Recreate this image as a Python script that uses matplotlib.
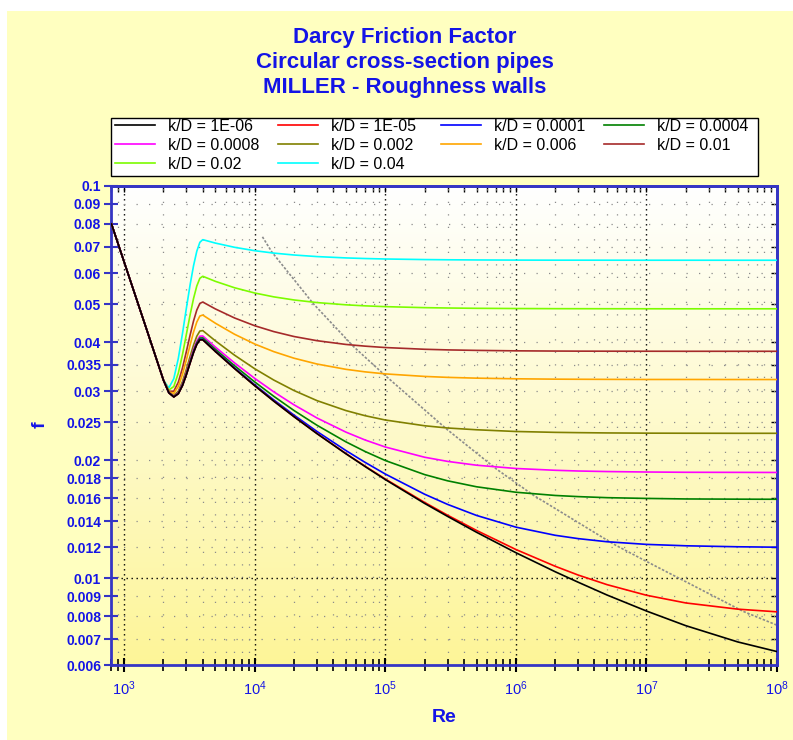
import matplotlib
matplotlib.use("Agg")
import matplotlib.pyplot as plt
from matplotlib.ticker import NullFormatter
from matplotlib.colors import LinearSegmentedColormap
from matplotlib.patches import Rectangle
import numpy as np

plt.rcParams['font.family'] = ['Liberation Sans', 'DejaVu Sans']
plt.rcParams['mathtext.default'] = 'regular'

# laminar part, shared by every curve
re_lam = [800, 1000, 1500, 2000]
f_lam = [0.08, 0.064, 0.0427, 0.032]

# Reynolds numbers of the points (transition + turbulent)
re = [2200, 2400, 2600, 2800, 3000, 3200, 3400, 3600, 3800, 4000,
      5000, 7000, 1e4, 1.4e4, 2e4, 3e4, 5e4, 7e4, 1e5, 2e5, 3e5, 5e5,
      1e6, 2e6, 3e6, 5e6, 1e7, 2e7, 5e7, 1e8]

f_1e_06 = [0.02971, 0.02900, 0.02955, 0.03101, 0.03307, 0.03539, 0.03763, 0.03945, 0.04054, 0.04055,
           0.03785, 0.03426, 0.03097, 0.02829, 0.02582, 0.02338, 0.02077, 0.01928, 0.01786, 0.01553,
           0.01439, 0.01311, 0.01163, 0.01040, 0.00978, 0.00907, 0.00826, 0.00758, 0.00689, 0.00651]
f_1e_05 = [0.02971, 0.02900, 0.02955, 0.03101, 0.03308, 0.03539, 0.03763, 0.03946, 0.04055, 0.04056,
           0.03786, 0.03427, 0.03099, 0.02831, 0.02584, 0.02340, 0.02080, 0.01932, 0.01792, 0.01562,
           0.01449, 0.01325, 0.01185, 0.01074, 0.01020, 0.00964, 0.00906, 0.00866, 0.00835, 0.00822]
f_0_0001 = [0.02971, 0.02901, 0.02957, 0.03105, 0.03313, 0.03546, 0.03771, 0.03955, 0.04065, 0.04066,
            0.03797, 0.03440, 0.03115, 0.02850, 0.02606, 0.02368, 0.02117, 0.01976, 0.01845, 0.01639,
            0.01544, 0.01447, 0.01351, 0.01288, 0.01263, 0.01240, 0.01221, 0.01211, 0.01204, 0.01201]
f_0_0004 = [0.02972, 0.02904, 0.02964, 0.03117, 0.03329, 0.03567, 0.03797, 0.03985, 0.04098, 0.04101,
            0.03835, 0.03484, 0.03167, 0.02911, 0.02678, 0.02456, 0.02228, 0.02106, 0.01997, 0.01839,
            0.01773, 0.01712, 0.01658, 0.01627, 0.01616, 0.01606, 0.01599, 0.01594, 0.01592, 0.01591]
f_0_0008 = [0.02973, 0.02909, 0.02973, 0.03132, 0.03351, 0.03595, 0.03832, 0.04025, 0.04142, 0.04147,
            0.03885, 0.03542, 0.03234, 0.02988, 0.02769, 0.02563, 0.02359, 0.02253, 0.02162, 0.02036,
            0.01987, 0.01943, 0.01906, 0.01886, 0.01878, 0.01872, 0.01867, 0.01864, 0.01863, 0.01862]
f_0_002 = [0.02976, 0.02922, 0.03000, 0.03176, 0.03414, 0.03678, 0.03932, 0.04141, 0.04269, 0.04280,
           0.04030, 0.03706, 0.03422, 0.03202, 0.03011, 0.02838, 0.02677, 0.02598, 0.02533, 0.02449,
           0.02417, 0.02392, 0.02368, 0.02356, 0.02352, 0.02348, 0.02345, 0.02344, 0.02343, 0.02343]
f_0_006 = [0.02987, 0.02962, 0.03085, 0.03315, 0.03611, 0.03934, 0.04244, 0.04500, 0.04662, 0.04689,
           0.04469, 0.04190, 0.03956, 0.03783, 0.03640, 0.03518, 0.03410, 0.03360, 0.03320, 0.03271,
           0.03253, 0.03238, 0.03226, 0.03219, 0.03217, 0.03215, 0.03213, 0.03213, 0.03212, 0.03212]
f_0_01 = [0.02997, 0.03000, 0.03162, 0.03441, 0.03792, 0.04169, 0.04529, 0.04828, 0.05020, 0.05061,
          0.04860, 0.04610, 0.04404, 0.04255, 0.04134, 0.04034, 0.03946, 0.03907, 0.03875, 0.03836,
          0.03822, 0.03811, 0.03801, 0.03796, 0.03794, 0.03793, 0.03792, 0.03791, 0.03791, 0.03791]
f_0_02 = [0.03020, 0.03083, 0.03337, 0.03725, 0.04196, 0.04695, 0.05167, 0.05559, 0.05817, 0.05887,
          0.05714, 0.05504, 0.05336, 0.05217, 0.05123, 0.05045, 0.04979, 0.04949, 0.04926, 0.04897,
          0.04887, 0.04878, 0.04872, 0.04868, 0.04867, 0.04866, 0.04865, 0.04864, 0.04864, 0.04864]
f_0_04 = [0.03059, 0.03228, 0.03637, 0.04216, 0.04894, 0.05600, 0.06264, 0.06816, 0.07184, 0.07298,
          0.07152, 0.06978, 0.06840, 0.06744, 0.06669, 0.06608, 0.06556, 0.06533, 0.06515, 0.06493,
          0.06485, 0.06478, 0.06473, 0.06470, 0.06470, 0.06469, 0.06468, 0.06468, 0.06467, 0.06467]

labels = ['k/D = 1E-06', 'k/D = 1E-05', 'k/D = 0.0001', 'k/D = 0.0004',
          'k/D = 0.0008', 'k/D = 0.002', 'k/D = 0.006', 'k/D = 0.01',
          'k/D = 0.02', 'k/D = 0.04']
curves = [f_1e_06, f_1e_05, f_0_0001, f_0_0004, f_0_0008,
          f_0_002, f_0_006, f_0_01, f_0_02, f_0_04]
colors = ['#000000', '#ff0000', '#0000ff', '#008000', '#ff00ff',
          '#808000', '#ffa500', '#a52a2a', '#7cfc00', '#00ffff']

# grey dotted boundary line
bound_re = [11460, 13520, 28140, 57000, 96700, 295800, 714000, 1.36e6, 5.58e6, 1.0e7, 5.52e7, 1e8]
bound_f = [0.0742, 0.0679, 0.0501, 0.0390, 0.0332, 0.0240, 0.01897, 0.0163, 0.01224, 0.01105, 0.00824, 0.0076]

y_major = [0.01, 0.1]
y_minor = [0.006, 0.007, 0.008, 0.009, 0.012, 0.014, 0.016, 0.018, 0.02,
           0.025, 0.03, 0.035, 0.04, 0.05, 0.06, 0.07, 0.08, 0.09]

blue = '#1414e6'
spine_blue = '#3535c4'

fig = plt.figure(figsize=(7.93, 7.40), dpi=100)
fig.patch.set_facecolor('white')
fig.add_artist(Rectangle((7 / 793, 0), 1, 1 - 11 / 740, transform=fig.transFigure,
                         facecolor='#ffffc0', edgecolor='none', zorder=-10))

pos = [0.1406, 0.1007, 0.8392, 0.6480]

# gradient background of the plot area
bg = fig.add_axes(pos, zorder=0)
cmap = LinearSegmentedColormap.from_list('bg', ['#fdf598', '#ffffff'])
bg.imshow(np.linspace(0, 1, 256).reshape(-1, 1)[::-1], cmap=cmap, aspect='auto',
          extent=(0, 1, 0, 1))
bg.axis('off')

ax = fig.add_axes(pos, zorder=1)
ax.patch.set_alpha(0)
ax.set_xscale('log')
ax.set_yscale('log')

handles = []
for f, c, lab in reversed(list(zip(curves, colors, labels))):
    h, = ax.plot(re_lam + re, f_lam + f, color=c, lw=1.2, label=lab, zorder=3)
    handles.append(h)
handles = handles[::-1]

ax.plot(bound_re, bound_f, color='#8c8c8c', lw=1.2, linestyle=(0, (1.5, 1)), zorder=2)

ax.set_xlim(800, 1e8)
ax.set_ylim(0.006, 0.1)

ax.set_yticks(y_major, [f'{v:g}' for v in y_major], fontweight='bold', fontsize=10, color=blue)
ax.set_yticks(y_minor, [f'{v:g}' for v in y_minor], minor=True, fontweight='bold', fontsize=10, color=blue)
ax.xaxis.set_minor_formatter(NullFormatter())

ax.tick_params(axis='y', which='both', direction='inout', length=10, width=1.5,
               color=spine_blue, pad=2.5)
ax.tick_params(axis='x', which='major', direction='inout', length=10, width=1.5,
               color='black', labelcolor=blue, labelsize=10.5, pad=5)
ax.tick_params(axis='x', which='minor', direction='inout', length=8, width=1.2, color='black')

ax.grid(True, which='major', color='black', linestyle=(0, (1, 2.6)), lw=1.0)
ax.grid(True, which='minor', color='#8c8c8c', linestyle=(0, (1, 9)), lw=0.9)

for s in ax.spines.values():
    s.set_color(spine_blue)
    s.set_linewidth(2)

# small inward ticks on top and right
top = ax.secondary_xaxis('top')
top.tick_params(which='both', direction='in', length=4, width=1, color='black', labeltop=False)
top.xaxis.set_major_formatter(NullFormatter())
top.xaxis.set_minor_formatter(NullFormatter())
top.spines['top'].set_color(spine_blue)
top.spines['top'].set_linewidth(2)

right = ax.secondary_yaxis('right')
right.set_yticks(y_major + y_minor)
right.yaxis.set_major_formatter(NullFormatter())
right.tick_params(which='both', direction='in', length=4, width=1, color='black', labelright=False)
right.spines['right'].set_color(spine_blue)
right.spines['right'].set_linewidth(2)

# legend: four fixed-pitch columns inside one black frame, read row by row
fig.add_artist(Rectangle((111 / 793, 1 - 176 / 740), 647 / 793, 58 / 740,
                         transform=fig.transFigure, facecolor='white',
                         edgecolor='black', lw=1.0, zorder=5))
ncol = 4
for k in range(ncol):
    idx = list(range(k, len(labels), ncol))
    leg = fig.legend([handles[i] for i in idx], [labels[i] for i in idx],
                     loc='upper left', bbox_to_anchor=((115 + 163 * k) / 793, 1 - 119 / 740),
                     bbox_transform=fig.transFigure, frameon=False, fontsize=11.5,
                     handlelength=2.5, handletextpad=0.8, labelspacing=0.24,
                     borderpad=0, borderaxespad=0)
    leg.set_zorder(6)

title_lines = ['Darcy Friction Factor', 'Circular cross-section pipes', 'MILLER - Roughness walls']
for i, t in enumerate(title_lines):
    fig.text(405 / 793, 1 - (38 + 24.5 * i) / 740, t, ha='center', va='center',
             fontsize=16, fontweight='bold', color=blue)

fig.text(444 / 793, 1 - 717 / 740, 'Re', ha='center', va='center',
         fontsize=14, fontweight='bold', color=blue)
fig.text(40 / 793, 1 - 425 / 740, 'f', ha='center', va='center', rotation=90,
         fontsize=14, fontweight='bold', color=blue)

fig.savefig('out.png', dpi=100)
